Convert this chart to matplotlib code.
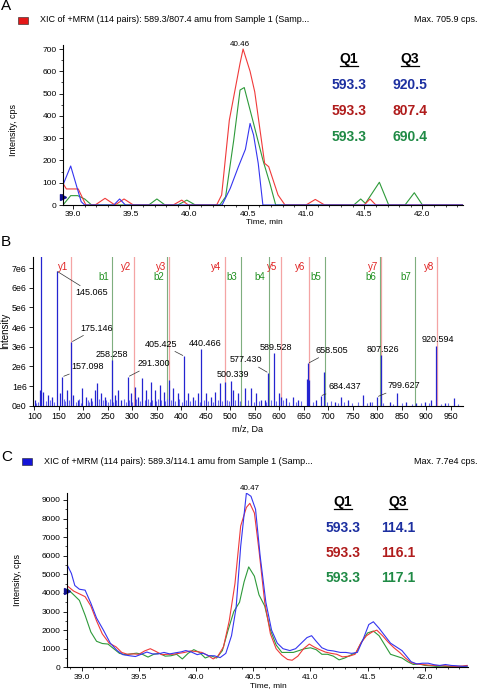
import numpy as np
import matplotlib
matplotlib.use('Agg')
import matplotlib.pyplot as plt
from matplotlib.patches import Rectangle
from matplotlib.lines import Line2D
from matplotlib.ticker import MultipleLocator, FormatStrFormatter

plt.rcParams['font.family'] = ['Liberation Sans', 'DejaVu Sans']

# ---------------- data ----------------
# Panel A: XIC traces (time in min, intensity in cps)
a_blue_t = [38.914, 38.98, 39.07, 39.10, 39.35, 39.40, 39.45, 40.28, 40.35, 40.42, 40.48, 40.52, 40.55, 40.59, 40.63, 42.35]
a_blue_v = [90, 175, 15, 0, 0, 27, 0, 0, 75, 172, 250, 366, 314, 187, 0, 0]
a_red_t = [38.914, 38.943, 39.045, 39.11, 39.19, 39.275, 39.36, 39.438, 39.518, 39.86, 39.933, 39.99, 40.233, 40.276,
           40.342, 40.434, 40.46, 40.52, 40.56, 40.645, 40.68, 40.76, 40.82, 41.0, 41.08, 41.16, 41.50, 41.55, 41.60, 42.35]
a_red_v = [97, 72, 72, 0, 0, 30, 0, 27, 0, 0, 22, 0, 0, 45, 381, 636, 700, 600, 508, 187, 172, 45, 0, 0, 25, 0, 0, 27, 0, 0]
a_green_t = [38.914, 38.98, 39.04, 39.10, 39.16, 39.65, 39.72, 39.79, 39.90, 39.977, 40.05, 40.26, 40.31, 40.38, 40.434,
             40.47, 40.55, 40.63, 40.69, 40.74, 41.41, 41.47, 41.51, 41.63, 41.71, 41.85, 41.93, 42.0, 42.35]
a_green_v = [0, 42, 42, 27, 0, 0, 27, 0, 0, 22, 0, 0, 37, 292, 516, 527, 366, 202, 97, 0, 0, 27, 7, 102, 0, 0, 55, 0, 0]
a_peak_time = 40.46
a_peak_value = 700
a_threshold = 37
a_q1 = ['593.3', '593.3', '593.3']
a_q3 = ['920.5', '807.4', '690.4']

# Panel B: product ion spectrum (m/z, intensity in 1e6)
spec_mz = [101.7, 110.5, 112.6, 117.3, 127.5, 135.7, 145.065, 151.4, 157.098, 167.0, 175.146, 178.6, 188.8, 197.6,
           205.8, 214.7, 222.9, 228.2, 236.4, 243.2, 258.258, 263.6, 270.4, 277.2, 291.300, 297.6, 304.5, 311.3,
           319.4, 328.3, 338.4, 345.3, 355.5, 363.7, 374.5, 382.7, 392.9, 405.425, 413.3, 423.5, 433.7, 440.466,
           450.7, 460.9, 469.1, 478.0, 488.2, 500.339, 505.2, 515.4, 529.0, 542.6, 552.8, 563.0, 569.8, 577.430,
           589.528, 599.1, 603.8, 614.0, 627.7, 637.9, 656.3, 658.505, 661.5, 675.2, 684.437, 690.9, 712.7, 726.3,
           739.9, 770.5, 784.1, 799.627, 807.526, 825.0, 839.3, 859.0, 879.4, 896.5, 910.1, 920.594, 937.3, 956.3]
spec_int = [0.29, 0.80, 7.80, 0.71, 0.54, 0.46, 6.85, 0.63, 1.47, 0.80, 3.23, 0.54, 0.29, 0.88,
            0.46, 0.37, 0.80, 1.13, 0.63, 0.46, 2.32, 0.54, 0.80, 0.29, 1.47, 0.63, 0.97, 0.46,
            1.42, 0.80, 1.22, 0.80, 1.05, 0.71, 1.30, 0.88, 0.63, 2.52, 0.63, 0.46, 0.63, 2.88,
            0.63, 0.46, 0.71, 1.13, 1.22, 1.25, 0.80, 0.63, 0.90, 0.88, 0.63, 0.29, 0.29, 1.67,
            2.66, 0.63, 0.46, 0.37, 0.46, 0.29, 1.35, 2.15, 1.30, 0.29, 0.50, 1.73, 0.20, 0.46,
            0.29, 0.54, 0.20, 0.45, 2.57, 0.20, 0.63, 0.20, 0.12, 0.20, 0.29, 3.03, 0.12, 0.41]
# low-level background ions
noise_mz = [104, 108, 123, 131, 140, 160, 163, 171, 185, 191, 194, 209, 212, 218, 231, 239, 247, 251, 254, 261,
            266, 282, 287, 294, 300, 307, 316, 325, 332, 335, 341, 349, 352, 358, 367, 371, 378, 386, 396, 401,
            410, 418, 427, 437, 446, 455, 465, 474, 483, 493, 497, 510, 520, 535, 548, 558, 573, 582, 594, 607,
            620, 633, 645, 668, 697, 705, 720, 733, 748, 760, 778, 790, 812, 833, 850, 870, 890, 905, 930, 945, 965]
noise_int = [0.15, 0.2, 0.25, 0.3, 0.2, 0.35, 0.25, 0.3, 0.2, 0.35, 0.15, 0.3, 0.2, 0.25, 0.35, 0.3, 0.3, 0.2, 0.35, 0.2,
             0.3, 0.35, 0.2, 0.3, 0.2, 0.35, 0.25, 0.3, 0.35, 0.2, 0.3, 0.25, 0.35, 0.3, 0.25, 0.35, 0.3, 0.25, 0.35, 0.2,
             0.3, 0.25, 0.3, 0.2, 0.3, 0.25, 0.2, 0.3, 0.25, 0.3, 0.25, 0.3, 0.25, 0.3, 0.2, 0.25, 0.2, 0.3, 0.25, 0.3,
             0.2, 0.2, 0.25, 0.2, 0.2, 0.25, 0.15, 0.2, 0.15, 0.2, 0.15, 0.2, 0.15, 0.1, 0.15, 0.1, 0.12, 0.15, 0.1, 0.12, 0.1]
labelled_mz = [145.065, 175.146, 157.098, 258.258, 291.300, 405.425, 440.466, 500.339, 577.430, 589.528,
               658.505, 684.437, 799.627, 807.526, 920.594]
y_ion_names = ['y1', 'y2', 'y3', 'y4', 'y5', 'y6', 'y7', 'y8']
y_ion_mz = [175.1, 303.1, 374.5, 488.2, 602.5, 659.7, 808.0, 921.6]
b_ion_names = ['b1', 'b2', 'b3', 'b4', 'b5', 'b6', 'b7']
b_ion_mz = [258.8, 371.1, 520.9, 578.0, 692.4, 804.6, 876.1]
b_ytick_labels = ['0e0', '1e6', '2e6', '3e6', '4e6', '5e6', '6e6', '7e6']

# Panel C: XIC traces
c_blue_t = [38.87, 38.91, 38.94, 38.98, 39.03, 39.08, 39.13, 39.19, 39.25, 39.31, 39.36, 39.42, 39.47, 39.52, 39.57,
            39.62, 39.67, 39.72, 39.77, 39.82, 39.87, 39.91, 39.96, 40.01, 40.06, 40.11, 40.16, 40.21, 40.26, 40.31,
            40.35, 40.39, 40.44, 40.48, 40.52, 40.56, 40.61, 40.66, 40.71, 40.76, 40.82, 40.87, 40.92, 40.97, 41.01,
            41.05, 41.10, 41.15, 41.20, 41.26, 41.31, 41.36, 41.41, 41.46, 41.51, 41.55, 41.60, 41.65, 41.70, 41.75,
            41.80, 41.84, 41.88, 41.93, 41.98, 42.03, 42.08, 42.13, 42.18, 42.23, 42.28, 42.33, 42.37]
c_blue_v = [5550, 5050, 4400, 4200, 4150, 3450, 2650, 2000, 1300, 900, 680, 620, 580, 700, 820,
            720, 720, 800, 720, 780, 830, 900, 820, 680, 760, 620, 620, 520, 750, 1700,
            3200, 6500, 9370, 9200, 8500, 6000, 3500, 2000, 1300, 1000, 900, 1000, 1300, 1600, 1700,
            1400, 1050, 920, 880, 800, 800, 750, 800, 1500, 2300, 2450, 2100, 1700, 1300, 1100,
            900, 600, 300, 180, 220, 220, 140, 100, 150, 100, 80, 50, 60]
c_red_t = [38.87, 38.93, 38.98, 39.03, 39.08, 39.13, 39.18, 39.24, 39.30, 39.35, 39.40, 39.45, 39.50, 39.55, 39.60,
           39.65, 39.70, 39.75, 39.80, 39.85, 39.90, 39.95, 40.00, 40.05, 40.10, 40.15, 40.19, 40.24, 40.29, 40.34,
           40.39, 40.44, 40.47, 40.51, 40.55, 40.60, 40.65, 40.70, 40.75, 40.80, 40.84, 40.89, 40.94, 40.99, 41.03,
           41.08, 41.13, 41.18, 41.23, 41.28, 41.34, 41.39, 41.44, 41.49, 41.54, 41.58, 41.63, 41.68, 41.73, 41.78,
           41.83, 41.88, 41.93, 41.98, 42.03, 42.08, 42.13, 42.18, 42.23, 42.28, 42.33, 42.37]
c_red_v = [4400, 4100, 3950, 3800, 3300, 2500, 1800, 1300, 1100, 800, 700, 720, 700, 880, 1000,
           850, 680, 700, 700, 750, 800, 880, 850, 800, 650, 450, 600, 1100, 2500, 4500,
           7600, 8600, 8820, 8300, 6300, 3500, 1800, 1000, 650, 420, 380, 600, 1000, 1250, 1100,
           950, 820, 750, 700, 560, 600, 700, 1300, 1700, 1900, 2000, 1700, 1350, 1050, 800,
           500, 250, 180, 150, 120, 100, 90, 80, 60, 50, 70, 100]
c_green_t = [38.87, 38.93, 38.98, 39.03, 39.08, 39.13, 39.18, 39.23, 39.28, 39.33, 39.38, 39.43, 39.48, 39.53, 39.58,
             39.63, 39.68, 39.73, 39.78, 39.83, 39.88, 39.93, 39.98, 40.03, 40.08, 40.13, 40.18, 40.23, 40.28, 40.33,
             40.38, 40.42, 40.46, 40.51, 40.55, 40.60, 40.65, 40.70, 40.75, 40.80, 40.85, 40.90, 40.95, 41.00, 41.05,
             41.10, 41.15, 41.20, 41.25, 41.30, 41.35, 41.40, 41.45, 41.50, 41.55, 41.60, 41.65, 41.70, 41.75, 41.80,
             41.85, 41.90, 41.95, 42.00, 42.05, 42.10, 42.15, 42.20, 42.25, 42.30, 42.37]
c_green_v = [4250, 3900, 3600, 2800, 1900, 1400, 1280, 1250, 1000, 750, 680, 720, 760, 700, 550,
             700, 750, 600, 620, 700, 450, 750, 950, 800, 500, 620, 500, 900, 2000, 3000,
             3500, 4600, 5400, 4900, 3900, 3300, 2000, 1200, 800, 800, 800, 900, 1000, 1050, 950,
             700, 700, 600, 400, 500, 650, 800, 1400, 1850, 1950, 1700, 1200, 700, 600, 500,
             300, 150, 180, 100, 80, 50, 60, 40, 50, 40, 60]
c_peak_time = 40.47
c_peak_value = 9370
c_threshold = 4120
c_q1 = ['593.3', '593.3', '593.3']
c_q3 = ['114.1', '116.1', '117.1']

# ---------------- layout helpers (pixel coords, origin top-left) ----------------
W, H = 479, 691
fig = plt.figure(figsize=(W / 100, H / 100), dpi=100)


def rect(l, t, r, b):
    return [l / W, 1 - b / H, (r - l) / W, (b - t) / H]


def ftext(x, y, s, **kw):
    return fig.text(x / W, 1 - y / H, s, **kw)


def style_axes(ax, size=6):
    for s in ['top', 'right']:
        ax.spines[s].set_visible(False)
    for s in ['left', 'bottom']:
        ax.spines[s].set_linewidth(0.8)
    ax.tick_params(which='major', length=3, width=0.6, labelsize=size, pad=1.5)
    ax.tick_params(which='minor', length=1.5, width=0.5)


line_blue, line_red, line_green = '#3535f0', '#f03a3a', '#2e9a3a'
txt_blue, txt_red, txt_green = '#1c2fa0', '#b01c1c', '#1f8a45'

underlines = []


def q_table(x1, x3, y_head, y_rows, q1, q3):
    for x in (x1, x3):
        t = ftext(x, y_head, 'Q1' if x == x1 else 'Q3', fontsize=10, fontweight='bold', ha='center', va='center')
        underlines.append(t)
    for y, a, b, c in zip(y_rows, q1, q3, [txt_blue, txt_red, txt_green]):
        ftext(x1, y, a, fontsize=10, fontweight='bold', color=c, ha='center', va='center')
        ftext(x3, y, b, fontsize=10, fontweight='bold', color=c, ha='center', va='center')


def header(y, letter, letter_y, sq_color, text, maxtext):
    ftext(1, letter_y, letter, fontsize=11, va='center')
    fig.add_artist(Rectangle(((18 if letter == 'A' else 22) / W, 1 - (y + 3.5) / H), 10 / W, 7 / H,
                             facecolor=sq_color, edgecolor='#202020', lw=0.4, transform=fig.transFigure))
    ftext(39.5 if letter == 'A' else 43.5, y, text, fontsize=6.5, va='center')
    ftext(477, y, maxtext, fontsize=6.5, ha='right', va='center')


# ---------------- Panel A ----------------
header(20, 'A', 6, '#e41818', 'XIC of +MRM (114 pairs): 589.3/807.4 amu from Sample 1 (Samp...', 'Max. 705.9 cps.')
axA = fig.add_axes(rect(63, 45, 463, 205))
axA.plot(a_green_t, a_green_v, color=line_green, lw=0.8)
axA.plot(a_red_t, a_red_v, color=line_red, lw=0.8)
axA.plot(a_blue_t, a_blue_v, color=line_blue, lw=0.8)
axA.set_xlim(38.914, 42.348)
axA.set_ylim(0, 718)
axA.set_xticks(np.arange(39.0, 42.01, 0.5))
axA.xaxis.set_major_formatter(FormatStrFormatter('%.1f'))
axA.xaxis.set_minor_locator(MultipleLocator(0.1))
axA.set_yticks(range(0, 701, 100))
axA.yaxis.set_minor_locator(MultipleLocator(50))
style_axes(axA)
axA.annotate(f'{a_peak_time:.2f}', xy=(a_peak_time, a_peak_value), xytext=(-3, 5), textcoords='offset pixels',
             ha='center', va='center', fontsize=5.8, annotation_clip=False)
axA.plot([0], [a_threshold], marker='>', ms=4, color='#101090', clip_on=False,
         transform=axA.get_yaxis_transform())
ftext(13, 130, 'Intensity, cps', fontsize=6.5, rotation=90, ha='center', va='center')
ftext(264, 222, 'Time, min', fontsize=6, ha='center', va='center')
q_table(349, 410, 59, [85, 111, 137], a_q1, a_q3)

# ---------------- Panel B ----------------
ftext(1, 242, 'B', fontsize=11, va='center')
axB = fig.add_axes(rect(33, 257, 463, 405.7))
for m in y_ion_mz:
    axB.axvline(m, color='#f4a4a4', lw=0.9, zorder=1)
for m in b_ion_mz:
    axB.axvline(m, color='#7fae7f', lw=0.8, zorder=1)
axB.vlines(noise_mz, 0, noise_int, color='#6b6bf0', lw=0.8, zorder=2)
axB.vlines(spec_mz, 0, spec_int, color='#2424d0', lw=0.9, zorder=3)
axB.set_xlim(97, 975)
axB.set_ylim(0, 7.56)
axB.set_xticks(range(100, 951, 50))
axB.set_yticks(range(0, 8))
axB.set_yticklabels(b_ytick_labels)
style_axes(axB, 6.3)
mz_to_int = dict(zip(spec_mz, spec_int))
# text offsets (pixels) and whether a leader line is drawn
label_place = [(19, -22, 'left', True), (9, 14, 'left', True), (9, 10, 'left', True), (0, 6, 'center', False),
               (9, 13, 'left', True), (-7, 12, 'right', True), (4, 6, 'center', False), (2, 7, 'center', False),
               (-6, 13, 'right', True), (2, 6, 'center', False), (8, 13, 'left', True), (8, 9, 'left', True),
               (10, 11, 'left', True), (2, 6, 'center', False), (2, 7, 'center', False)]
for m, (dx, dy, ha, lead) in zip(labelled_mz, label_place):
    props = dict(arrowstyle='-', color='#303030', lw=0.5, shrinkA=0, shrinkB=1) if lead else None
    axB.annotate(f'{m:.3f}', xy=(m, mz_to_int[m]), xytext=(dx, dy), textcoords='offset pixels',
                 ha=ha, va='center', fontsize=6.5, arrowprops=props, zorder=5)
for name, m in zip(y_ion_names, y_ion_mz):
    axB.annotate(name, xy=(m, 7.05), xytext=(-3, 0), textcoords='offset pixels', ha='right', va='center',
                 fontsize=7, color='#e02020')
for name, m in zip(b_ion_names, b_ion_mz):
    axB.annotate(name, xy=(m, 6.55), xytext=(-3, 0), textcoords='offset pixels', ha='right', va='center',
                 fontsize=7, color='#209020')
ftext(5, 331, 'Intensity', fontsize=7, rotation=90, ha='center', va='center')
ftext(247, 429, 'm/z, Da', fontsize=6.5, ha='center', va='center')

# ---------------- Panel C ----------------
header(461.5, 'C', 457, '#1414d8', 'XIC of +MRM (114 pairs): 589.3/114.1 amu from Sample 1 (Samp...', 'Max. 7.7e4 cps.')
axC = fig.add_axes(rect(66.7, 493, 468.3, 667.3))
axC.plot(c_green_t, c_green_v, color=line_green, lw=0.8)
axC.plot(c_red_t, c_red_v, color=line_red, lw=0.8)
axC.plot(c_blue_t, c_blue_v, color=line_blue, lw=0.8)
axC.set_xlim(38.869, 42.38)
axC.set_ylim(0, 9376)
axC.set_xticks(np.arange(39.0, 42.01, 0.5))
axC.xaxis.set_major_formatter(FormatStrFormatter('%.1f'))
axC.xaxis.set_minor_locator(MultipleLocator(0.1))
axC.set_yticks(range(0, 9001, 1000))
axC.yaxis.set_minor_locator(MultipleLocator(500))
style_axes(axC)
axC.annotate(f'{c_peak_time:.2f}', xy=(c_peak_time, c_peak_value), xytext=(0, 5), textcoords='offset pixels',
             ha='center', va='center', fontsize=5.8, annotation_clip=False)
axC.plot([0], [c_threshold], marker='>', ms=4, color='#101090', clip_on=False,
         transform=axC.get_yaxis_transform())
ftext(18, 580, 'Intensity, cps', fontsize=6.5, rotation=90, ha='center', va='center')
ftext(268, 686, 'Time, min', fontsize=6, ha='center', va='center')
q_table(343, 398, 502, [528, 553, 578], c_q1, c_q3)

# underline the Q1 / Q3 headers
renderer = fig.canvas.get_renderer()
for t in underlines:
    bb = t.get_window_extent(renderer).transformed(fig.transFigure.inverted())
    fig.add_artist(Line2D([bb.x0, bb.x1], [bb.y0 + 0.5 / H, bb.y0 + 0.5 / H], color='black', lw=0.9,
                          transform=fig.transFigure))

fig.savefig('out.png', dpi=100)
